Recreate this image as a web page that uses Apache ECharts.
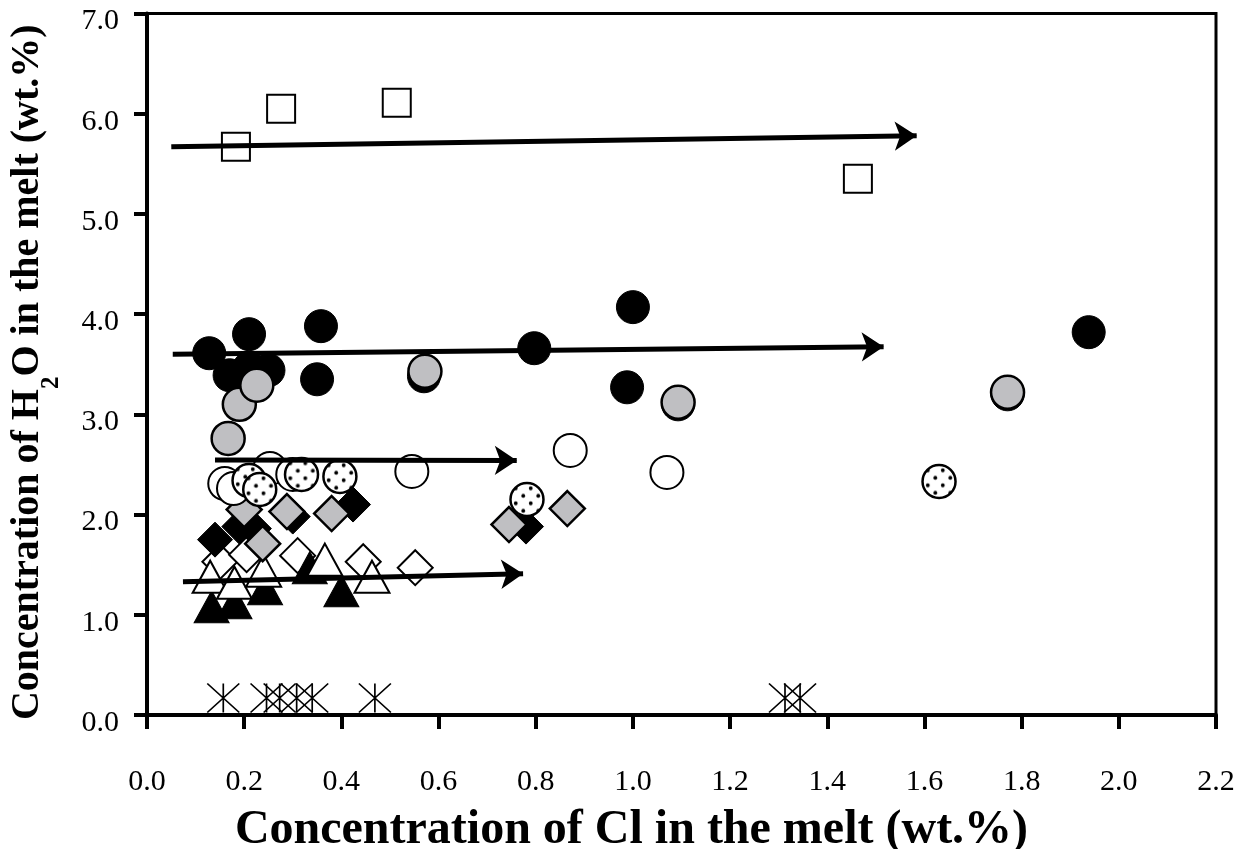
<!DOCTYPE html>
<html>
<head>
<meta charset="utf-8">
<script src="https://cdn.jsdelivr.net/npm/echarts@6/dist/echarts.min.js"></script>
<style>
html,body{margin:0;padding:0;background:#fff;}
#chart{width:1250px;height:849px;}
</style>
</head>
<body>
<div id="chart"></div>
<script>
// ---- data (x = Cl wt.%, y = H2O wt.%) ----
const xTicks = ['0.0','0.2','0.4','0.6','0.8','1.0','1.2','1.4','1.6','1.8','2.0','2.2'];
const yTicks = ['0.0','1.0','2.0','3.0','4.0','5.0','6.0','7.0'];

const openSquares   = [[0.183,5.67],[0.276,6.05],[0.514,6.11],[1.463,5.35]];
const blackCircles  = [[0.128,3.61],[0.21,3.80],[0.17,3.39],[0.25,3.44],[0.21,3.46],[0.358,3.88],[0.35,3.35],
                       [0.57,3.38],[0.797,3.66],[1.0,4.07],[0.988,3.27],[1.093,3.10],[1.771,3.20],[1.938,3.82]];
const greyCircles   = [[0.167,2.76],[0.19,3.10],[0.226,3.29],[0.572,3.43],[1.093,3.12],[1.771,3.22]];
const openCircles   = [[0.160,2.31],[0.178,2.26],[0.253,2.46],[0.300,2.40],[0.545,2.43],[0.871,2.64],[1.070,2.42]];
const dottedCircles = [[0.21,2.34],[0.232,2.25],[0.318,2.40],[0.397,2.38],[0.782,2.15],[1.630,2.33]];
const blackDiamonds = [[0.14,1.75],[0.19,1.88],[0.22,1.86],[0.30,1.98],[0.424,2.10],[0.78,1.88]];
const greyDiamonds  = [[0.20,2.05],[0.288,2.03],[0.38,2.01],[0.238,1.71],[0.745,1.90],[0.865,2.06]];
const openDiamonds  = [[0.15,1.53],[0.205,1.60],[0.31,1.59],[0.445,1.53],[0.552,1.47]];
const openTriangles = [[0.13,1.38],[0.18,1.32],[0.24,1.44],[0.366,1.55],[0.463,1.38]];
const blackTriangles= [[0.133,1.08],[0.18,1.12],[0.243,1.26],[0.40,1.24],[0.335,1.47]];
const crosses       = [[0.157,0.17],[0.246,0.17],[0.273,0.17],[0.308,0.17],[0.34,0.17],[0.469,0.17],[1.313,0.17],[1.344,0.17]];
const arrows = [
  [[0.05,5.67],[1.584,5.78]],
  [[0.053,3.60],[1.516,3.675]],
  [[0.14,2.545],[0.761,2.54]],
  [[0.074,1.33],[0.774,1.41]]
];

// ---- dotted pattern (symbols are drawn in a 2x2 unit box and scaled) ----
const CIRCLE = 33;
const T = 15;
const pc = document.createElement('canvas');
pc.width = T; pc.height = T;
const g = pc.getContext('2d');
g.fillStyle = '#fff'; g.fillRect(0,0,T,T);
g.fillStyle = '#000';
g.beginPath(); g.arc(T/4,T/4,1.9,0,Math.PI*2); g.fill();
g.beginPath(); g.arc(3*T/4,3*T/4,1.9,0,Math.PI*2); g.fill();
const dotPattern = {image: pc, repeat: 'repeat', scaleX: 2/CIRCLE, scaleY: 2/CIRCLE};

const FONT = 'Liberation Serif';
const GREY = '#bfbfc2';
const crossPath = 'path://M0,0L10,10M10,0L0,10M5,0L5,10';

function sc(name, data, symbol, size, fill, border, bw, z){
  return {
    name, type: 'scatter', data, symbol, symbolSize: size, z: z,
    itemStyle: {color: fill, borderColor: border, borderWidth: bw, opacity: 1},
    emphasis: {disabled: true}, silent: true
  };
}

const series = [
  sc('openDiamonds', openDiamonds, 'diamond', [35,35], '#fff', '#000', 2, 2),
  sc('blackTriangles', blackTriangles, 'triangle', [35,32], '#000', '#000', 1, 2),
  sc('openTriangles', openTriangles, 'triangle', [35,32], '#fff', '#000', 2, 2),
  sc('blackDiamonds', blackDiamonds, 'diamond', [35,35], '#000', '#000', 1, 2),
  sc('greyDiamonds', greyDiamonds, 'diamond', [35,35], GREY, '#000', 2.5, 2),
  sc('openCircles', openCircles, 'circle', CIRCLE, '#fff', '#000', 2, 2),
  sc('dottedCircles', dottedCircles, 'circle', CIRCLE, dotPattern, '#000', 2.5, 2),
  sc('blackCircles', blackCircles, 'circle', CIRCLE, '#000', '#000', 1, 2),
  sc('greyCircles', greyCircles, 'circle', CIRCLE, GREY, '#000', 2.5, 2),
  sc('openSquares', openSquares, 'rect', 28, '#fff', '#000', 2, 2),
  sc('crosses', crosses, crossPath, [32,29], 'none', '#000', 1.6, 2),
  {
    name: 'arrows', type: 'lines', coordinateSystem: 'cartesian2d', z: 5,
    silent: true,
    symbol: ['none', 'arrow'], symbolSize: 22,
    lineStyle: {color: '#000', width: 5, opacity: 1, curveness: 0},
    data: arrows.map(a => ({coords: a}))
  }
];

const chart = echarts.init(document.getElementById('chart'), null, {renderer: 'canvas'});
chart.setOption({
  animation: false,
  backgroundColor: '#fff',
  grid: {left: 147, right: 34, top: 13.5, bottom: 134, containLabel: false, outerBoundsMode: 'none',
    show: true, borderColor: '#000', borderWidth: 3, backgroundColor: 'transparent'},
  xAxis: {
    type: 'value', min: 0, max: 2.2, interval: 0.2,
    axisLine: {show: true, onZero: false, lineStyle: {color: '#000', width: 4}},
    axisTick: {show: true, inside: false, length: 14, lineStyle: {color: '#000', width: 4}},
    splitLine: {show: false},
    axisLabel: {color: '#000', fontFamily: FONT, fontSize: 30, margin: 52,
      formatter: (v) => xTicks[Math.round(v / 0.2)]},
    name: 'Concentration of Cl in the melt (wt.%)',
    nameLocation: 'middle', nameGap: 92,
    nameTextStyle: {color: '#000', fontFamily: FONT, fontWeight: 'bold', fontSize: 48, padding: [0, 100, 0, 0]}
  },
  yAxis: {
    type: 'value', min: 0, max: 7, interval: 1,
    axisLine: {show: true, onZero: false, lineStyle: {color: '#000', width: 4}},
    axisTick: {show: true, inside: false, length: 13, lineStyle: {color: '#000', width: 4}},
    splitLine: {show: false},
    axisLabel: {color: '#000', fontFamily: FONT, fontSize: 30, margin: 28,
      formatter: (v) => '{a|' + yTicks[Math.round(v)] + '}',
      rich: {a: {fontFamily: FONT, fontSize: 30, color: '#000', padding: [16, 0, 0, 0]}}},
    name: 'Concentration of H{sub|2}O in the melt (wt.%)',
    nameLocation: 'middle', nameGap: 99,
    nameTextStyle: {color: '#000', fontFamily: FONT, fontWeight: 'bold', fontSize: 40, padding: [0, 16, 0, 0],
      rich: {sub: {fontFamily: FONT, fontWeight: 'bold', fontSize: 25, color: '#000', verticalAlign: 'bottom', padding: [0,0,-16,0]}}}
  },
  series
});
</script>
</body>
</html>
